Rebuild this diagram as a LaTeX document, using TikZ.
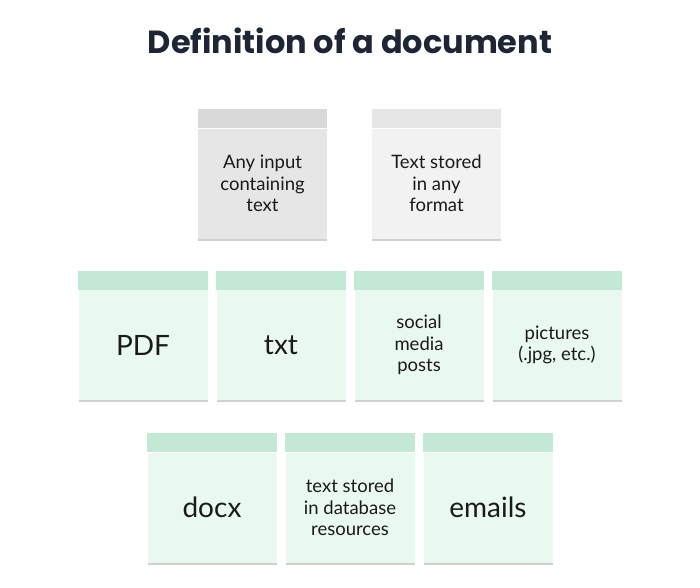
\documentclass[tikz,border=0pt]{standalone}
\usepackage{fontspec}
\setmainfont{Lato}
\newfontfamily\titlefont{Poppins}
\usetikzlibrary{shadows}

\definecolor{titleink}{HTML}{1E2635}
\definecolor{cardink}{HTML}{1A1A1A}
\definecolor{greybody}{HTML}{E6E6E6}
\definecolor{greyhead}{HTML}{D9D9D9}
\definecolor{lightbody}{HTML}{F2F2F2}
\definecolor{lighthead}{HTML}{E6E6E6}
\definecolor{greenbody}{HTML}{EAF9F0}
\definecolor{greenhead}{HTML}{C3E8D5}

\begin{document}
\begin{tikzpicture}[x=1pt,y=-1pt]
  \tikzset{card/.style={rectangle,minimum width=129pt,minimum height=110pt,inner sep=2pt,
      align=center,text=cardink,font=\fontsize{18.5}{21.5}\selectfont,
      drop shadow={shadow xshift=0pt,shadow yshift=-2pt,opacity=.3,fill=black!60}},
    bigcard/.style={card,font=\fontsize{28}{32}\selectfont}}
  \useasboundingbox[fill=white] (0,0) rectangle (700,587);

  \node[font=\titlefont\bfseries\fontsize{32}{38}\selectfont,text=titleink] (title) at (350,41) {Definition of a document};

  % definition cards
  \node[card,fill=greybody]  (input)  at (262.5,183.5) {Any input\\containing\\text};
  \node[card,fill=lightbody] (stored) at (436.5,183.5) {Text stored\\in any\\format};

  % example cards
  \node[bigcard,fill=greenbody] (pdf)    at (143,345) {PDF};
  \node[bigcard,fill=greenbody] (txt)    at (281,345) {txt};
  \node[card,fill=greenbody]    (social) at (419,345) {social\\media\\posts};
  \node[card,fill=greenbody]    (pics)   at (557,345) {pictures\\(.jpg, etc.)};
  \node[bigcard,fill=greenbody] (docx)   at (212,507.5) {docx};
  \node[card,fill=greenbody]    (dbase)  at (350,507.5) {text stored\\in database\\resources};
  \node[bigcard,fill=greenbody] (emails) at (488,507.5) {emails};

  \foreach \n/\c in {input/greyhead,stored/lighthead,pdf/greenhead,txt/greenhead,social/greenhead,
      pics/greenhead,docx/greenhead,dbase/greenhead,emails/greenhead}
    \fill[\c] (\n.north west) rectangle ([yshift=19pt]\n.north east);
\end{tikzpicture}
\end{document}
